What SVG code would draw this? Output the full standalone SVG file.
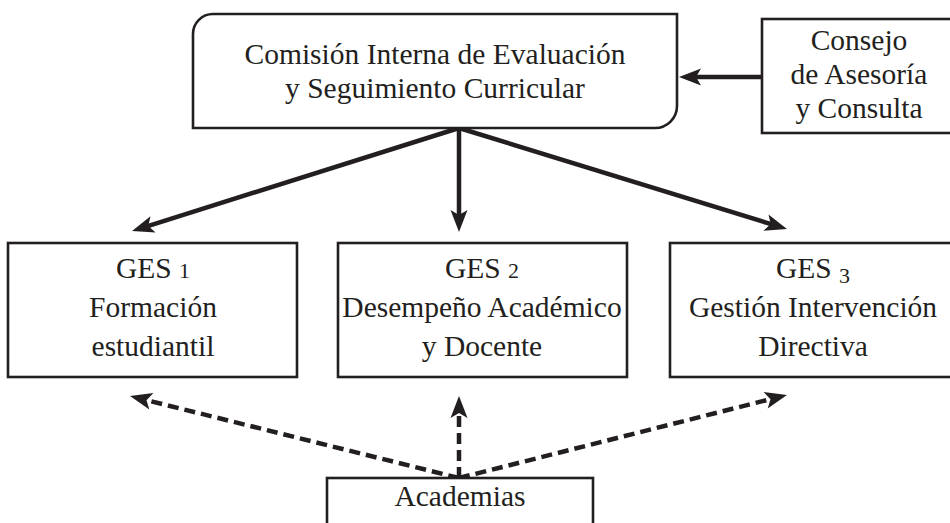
<svg xmlns="http://www.w3.org/2000/svg" width="950" height="523" viewBox="0 0 950 523">
<style>
.box{fill:#fff;stroke:#231f20;stroke-width:2.6}
.t{font-family:'Liberation Serif','DejaVu Serif','Times New Roman',serif;font-size:29.5px;fill:#231f20;text-anchor:middle}
.num{font-size:22px}
.solid{stroke:#231f20;stroke-width:4.5;fill:none}
.dash{stroke:#231f20;stroke-width:4.5;fill:none;stroke-dasharray:11 6}
</style>
<defs>
<marker id="ah" markerUnits="userSpaceOnUse" markerWidth="40" markerHeight="40" refX="0" refY="0" orient="auto" overflow="visible">
<path d="M14,0 L-8,-8.5 L-3,0 L-8,8.5 Z" fill="#231f20"/>
</marker>
</defs>
<rect width="950" height="523" fill="#fff"/>
<g id="connectors">
<line class="solid" x1="762" y1="77" x2="693" y2="77" marker-end="url(#ah)"/>
<line class="solid" x1="459" y1="128" x2="145.4" y2="226.8" marker-end="url(#ah)"/>
<line class="solid" x1="459" y1="128" x2="459" y2="218" marker-end="url(#ah)"/>
<line class="solid" x1="459" y1="128" x2="773.6" y2="224.9" marker-end="url(#ah)"/>
<line class="dash" x1="459" y1="478" x2="143.6" y2="399.4" marker-end="url(#ah)"/>
<line class="dash" x1="459" y1="478" x2="459" y2="410" marker-end="url(#ah)"/>
<line class="dash" x1="459" y1="478" x2="773.4" y2="398.4" marker-end="url(#ah)"/>
</g>
<g font-family="Liberation Serif, serif">
<g id="comision">
<path class="box" d="M213,14 H677 V106 A22,22 0 0 1 655,128 H193 V34 A20,20 0 0 1 213,14 Z"/>
<text class="t" x="435" y="64" font-family="Liberation Serif, serif">Comisión Interna de Evaluación</text>
<text class="t" x="435" y="98" font-family="Liberation Serif, serif">y Seguimiento Curricular</text>
</g>
<g id="consejo">
<rect class="box" x="762" y="19" width="194" height="114"/>
<text class="t" x="859" y="50" font-family="Liberation Serif, serif">Consejo</text>
<text class="t" x="859" y="84" font-family="Liberation Serif, serif">de Asesoría</text>
<text class="t" x="859" y="118" font-family="Liberation Serif, serif">y Consulta</text>
</g>
<g id="ges1">
<rect class="box" x="8" y="243" width="289" height="134"/>
<text class="t" x="153" y="278" font-family="Liberation Serif, serif">GES <tspan class="num">1</tspan></text>
<text class="t" x="153" y="317" font-family="Liberation Serif, serif">Formación</text>
<text class="t" x="153" y="356" font-family="Liberation Serif, serif">estudiantil</text>
</g>
<g id="ges2">
<rect class="box" x="338" y="243" width="289" height="134"/>
<text class="t" x="482" y="278" font-family="Liberation Serif, serif">GES <tspan class="num">2</tspan></text>
<text class="t" x="482" y="317" font-family="Liberation Serif, serif">Desempeño Académico</text>
<text class="t" x="482" y="356" font-family="Liberation Serif, serif">y Docente</text>
</g>
<g id="ges3">
<rect class="box" x="670" y="243" width="286" height="134"/>
<text class="t" x="813" y="278" font-family="Liberation Serif, serif">GES <tspan class="num" dy="5">3</tspan></text>
<text class="t" x="813" y="317" font-family="Liberation Serif, serif">Gestión Intervención</text>
<text class="t" x="813" y="356" font-family="Liberation Serif, serif">Directiva</text>
</g>
<g id="academias">
<rect class="box" x="327" y="478" width="266" height="60"/>
<text class="t" x="460" y="506" font-family="Liberation Serif, serif">Academias</text>
</g>
</g>
</svg>
